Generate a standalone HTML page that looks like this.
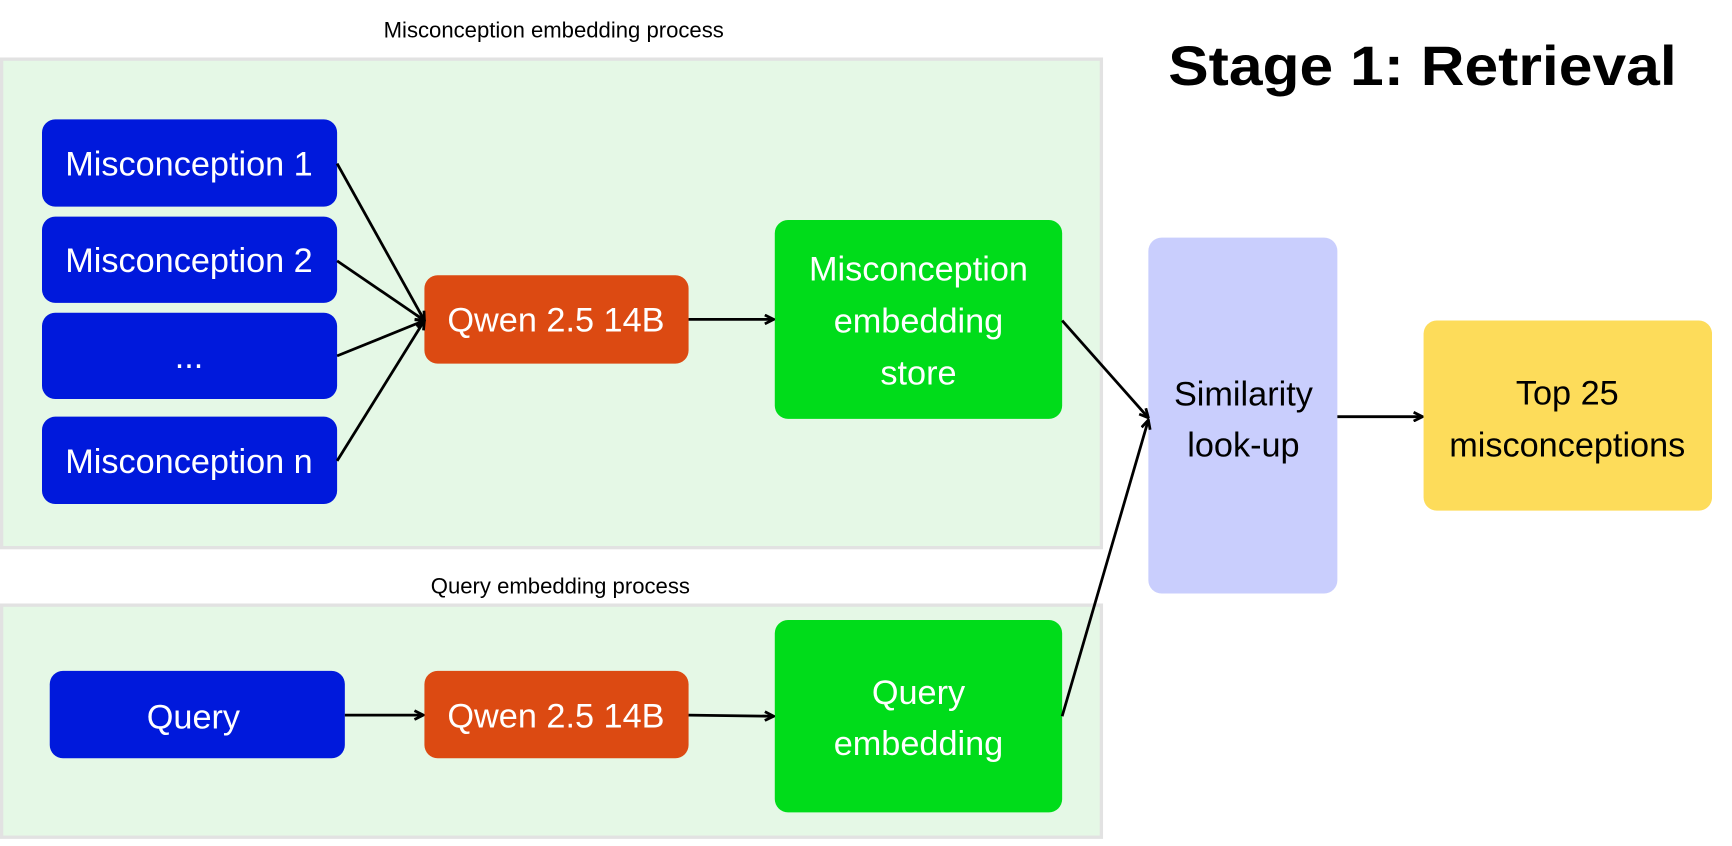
<!DOCTYPE html>
<html><head><meta charset="utf-8"><style>
html,body{margin:0;padding:0;background:#fff;width:1732px;height:840px;overflow:hidden}
#w{position:absolute;left:0;top:0;width:1549px;height:760px;transform:scale(1.10526,1.10526);transform-origin:0 0}
svg{font-family:"Liberation Sans",sans-serif}
</style></head><body><div id="w">
<svg width="1549" height="760" viewBox="0 0 1549 760" xmlns="http://www.w3.org/2000/svg">
<defs><marker id="a" markerWidth="10" markerHeight="10" refX="9" refY="5" orient="auto" markerUnits="userSpaceOnUse"><path d="M1,1 L9,5 L1,9" fill="none" stroke="#000" stroke-width="2.5"/></marker></defs>
<rect x="1.5" y="53.5" width="995" height="442" fill="#e5f8e6" stroke="#e2e2e2" stroke-width="3"/>
<rect x="1.5" y="547.5" width="995" height="210" fill="#e5f8e6" stroke="#e2e2e2" stroke-width="3"/>
<text x="501" y="34" font-size="20" text-anchor="middle">Misconception embedding process</text>
<text x="507" y="537" font-size="20" text-anchor="middle">Query embedding process</text>
<text x="1287" y="77" font-size="50" font-weight="bold" text-anchor="middle" textLength="460" lengthAdjust="spacingAndGlyphs">Stage 1: Retrieval</text>
<g fill="#0019dc">
<rect x="38" y="108" width="267" height="79" rx="12"/>
<rect x="38" y="196" width="267" height="78" rx="12"/>
<rect x="38" y="283" width="267" height="78" rx="12"/>
<rect x="38" y="377" width="267" height="79" rx="12"/>
<rect x="45" y="607" width="267" height="79" rx="12"/>
</g>
<g fill="#dc4a12"><rect x="384" y="249" width="239" height="80" rx="12"/><rect x="384" y="607" width="239" height="79" rx="12"/></g>
<g fill="#00dc1a"><rect x="701" y="199" width="260" height="180" rx="12"/><rect x="701" y="561" width="260" height="174" rx="12"/></g>
<rect x="1039" y="215" width="171" height="322" rx="12" fill="#c9cefd"/>
<rect x="1288" y="290" width="261" height="172" rx="12" fill="#fddc5a"/>
<g fill="#fff" font-size="31" text-anchor="middle">
<text x="171" y="159">Misconception 1</text>
<text x="171" y="246">Misconception 2</text>
<text x="171" y="333">...</text>
<text x="171" y="428">Misconception n</text>
<text x="175" y="659">Query</text>
<text x="503" y="300">Qwen 2.5 14B</text>
<text x="503" y="658">Qwen 2.5 14B</text>
<text x="831" y="254">Misconception</text>
<text x="831" y="301">embedding</text>
<text x="831" y="348">store</text>
<text x="831" y="637">Query</text>
<text x="831" y="683">embedding</text>
</g>
<g fill="#000" font-size="31" text-anchor="middle">
<text x="1125" y="367">Similarity</text>
<text x="1125" y="413">look-up</text>
<text x="1418" y="366">Top 25</text>
<text x="1418" y="413">misconceptions</text>
</g>
<g stroke="#000" stroke-width="2.5" fill="none" marker-end="url(#a)">
<line x1="305" y1="148" x2="384" y2="290"/>
<line x1="305" y1="236" x2="384" y2="290"/>
<line x1="305" y1="322" x2="384" y2="290"/>
<line x1="305" y1="417" x2="384" y2="290"/>
<line x1="623" y1="289" x2="700" y2="289"/>
<line x1="961" y1="290" x2="1039" y2="378"/>
<line x1="961" y1="648" x2="1039" y2="380"/>
<line x1="1210" y1="377" x2="1287" y2="377"/>
<line x1="312" y1="647" x2="383" y2="647"/>
<line x1="623" y1="647" x2="700" y2="648"/>
</g>
</svg></div></body></html>
